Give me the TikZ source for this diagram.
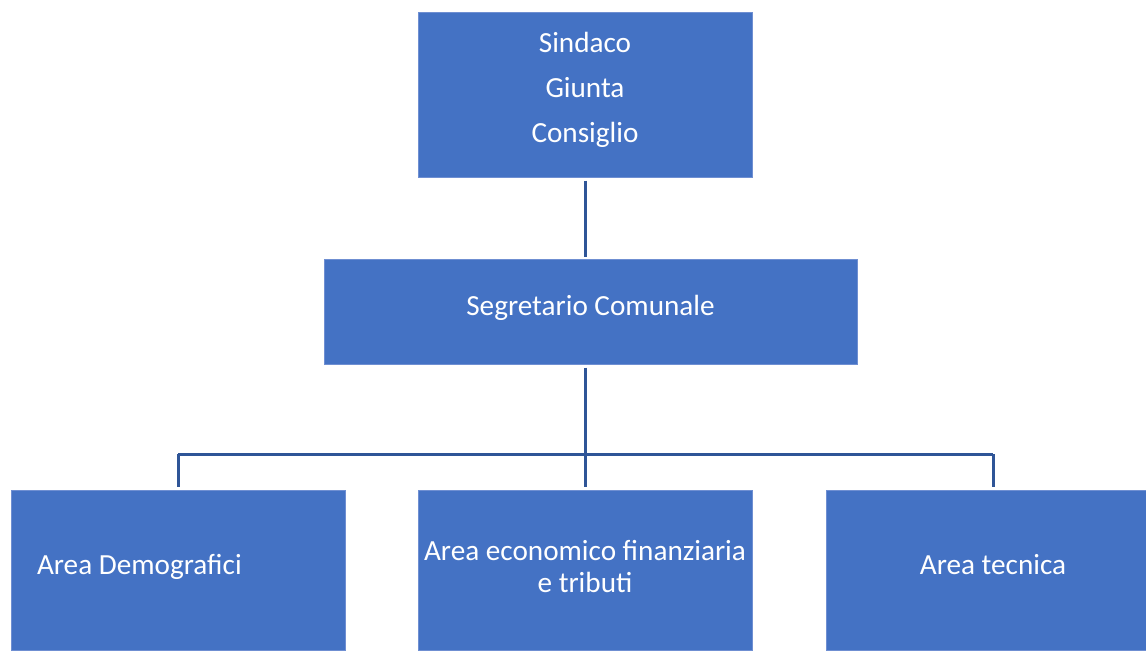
\documentclass[tikz,border=0pt]{standalone}
\usepackage{fontspec}
\setmainfont{Carlito}
\usetikzlibrary{positioning}
\definecolor{boxblue}{HTML}{4472C4}
\definecolor{boxedge}{HTML}{6F8FD2}
\definecolor{linkblue}{HTML}{2F5597}
\begin{document}
\begin{tikzpicture}[x=0.5pt, y=-0.5pt]

\tikzstyle{box} = [rectangle, draw=boxedge, line width=0.5pt, fill=boxblue, text=white,
  font=\fontsize{14.6}{16}\selectfont, inner sep=0pt, minimum width=167pt]
\tikzstyle{oneline} = [text height=10pt, text depth=6pt]
\tikzstyle{link} = [draw=linkblue, line width=1.5pt]

\useasboundingbox (0,0) rectangle (1146,650);
\clip (0,0) rectangle (1146,650);

% Boxes
\node (sindaco) [box, minimum height=82.5pt, align=center, text depth=7.5pt] at (585,94.5)
  {Sindaco\\[6.5pt]Giunta\\[6.5pt]Consiglio};
\node (segretario) [box, oneline, minimum width=266.5pt, minimum height=52.5pt] at (590.5,311.5)
  {Segretario Comunale};
\node (demografici) [box, oneline, minimum height=80pt, text width=141pt, inner xsep=13pt,
  align=flush left] at (178,570) {Area Demografici};
\node (finanziaria) [box, minimum height=80pt, align=center, text depth=4pt] at (585,570)
  {Area economico finanziaria\\e tributi};
\node (tecnica) [box, oneline, minimum height=80pt] at (993,570) {Area tecnica};

% Branch points
\coordinate (split) at (585,454);
\coordinate (splitL) at (178,454);
\coordinate (splitR) at (993,454);

% Connectors
\draw [link, shorten <=1.5pt, shorten >=1pt] (sindaco.south) -- (sindaco.south |- segretario.north);
\draw [link, shorten <=1.5pt] (segretario.south -| split) -- (split);
\draw [link] (splitL) -- (splitR);
\draw [link, shorten >=1.5pt] (splitL) -- (demografici.north);
\draw [link, shorten >=1.5pt] (split) -- (finanziaria.north);
\draw [link, shorten >=1.5pt] (splitR) -- (tecnica.north);

\end{tikzpicture}
\end{document}
